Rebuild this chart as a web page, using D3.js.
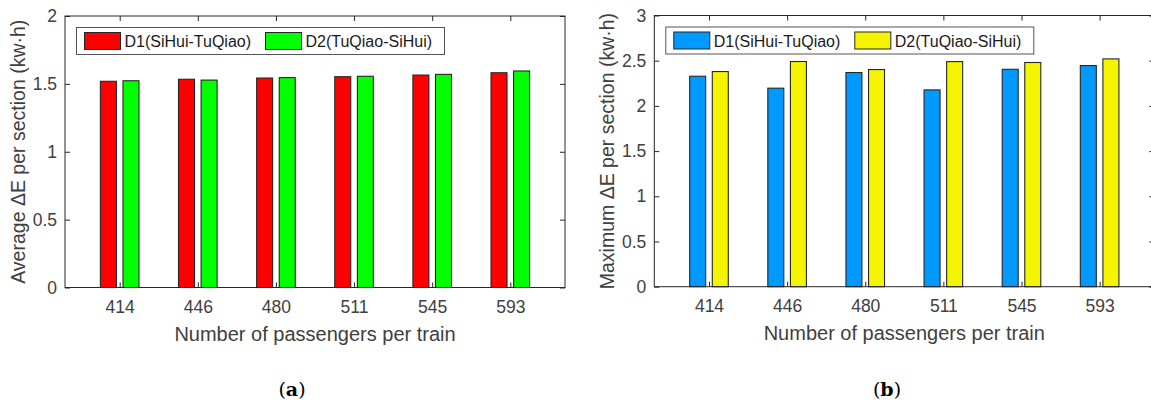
<!DOCTYPE html>
<html>
<head>
<meta charset="utf-8">
<script src="https://cdn.jsdelivr.net/npm/d3@7"></script>
<style>
    body { margin: 0; background: #fff; }
    svg { display: block; }
    text { font-family: "Liberation Sans", Arial, sans-serif; }
</style>
</head>
<body>
<div id="chart"></div>
<script>
'use strict';

// Values.
var categories  = ['414', '446', '480', '511', '545', '593'];
var seriesNames = ['D1(SiHui-TuQiao)', 'D2(TuQiao-SiHui)'];
var avgD1 = [1.519, 1.534, 1.543, 1.553, 1.565, 1.582];
var avgD2 = [1.523, 1.528, 1.546, 1.556, 1.570, 1.595];
var maxD1 = [2.328, 2.196, 2.369, 2.177, 2.405, 2.446];
var maxD2 = [2.380, 2.491, 2.402, 2.490, 2.480, 2.520];
var avgTicks = [0, 0.5, 1, 1.5, 2];
var maxTicks = [0, 0.5, 1, 1.5, 2, 2.5, 3];

var width  = 1151,
    height = 403;

var svg = d3.select('#chart').append('svg')
    .attr('width', width)
    .attr('height', height);

function drawPanel(opts) {
    var w = 500,
        h = opts.h,
        barW = 16,
        barOffset = 11.3;

    var g = svg.append('g')
        .attr('transform', 'translate(' + opts.left + ',' + opts.top + ')');

    var x = d3.scaleLinear().domain([0.3, 6.7]).range([0, w]);
    var y = d3.scaleLinear().domain([0, opts.ticks[opts.ticks.length - 1]]).range([h, 0]);

    var idx = categories.map(function (c, i) { return i + 1; });

    // bars
    opts.series.forEach(function (values, s) {
        var dx = s === 0 ? -barOffset : barOffset;
        g.append('g').selectAll('rect')
            .data(values)
            .enter().append('rect')
            .attr('x', function (d, i) { return x(i + 1) + dx - barW / 2; })
            .attr('y', function (d) { return y(d); })
            .attr('width', barW)
            .attr('height', function (d) { return h - y(d); })
            .style('fill', opts.colors[s])
            .style('stroke', '#262626')
            .style('stroke-width', 1.1);
    });

    // axes (ticks pointing inward, like matlab)
    var axisColor = '#262626',
        textColor = '#404040';

    var xAxis = g.append('g')
        .attr('transform', 'translate(0,' + h + ')')
        .call(d3.axisBottom(x).tickValues(idx)
            .tickFormat(function (d) { return categories[d - 1]; })
            .tickSize(-5).tickPadding(13));

    var xTop = g.append('g')
        .call(d3.axisTop(x).tickValues(idx).tickFormat('').tickSize(-5));

    var yAxis = g.append('g')
        .call(d3.axisLeft(y).tickValues(opts.ticks).tickFormat(d3.format('')).tickSize(-5).tickPadding(8));

    var yRight = g.append('g')
        .attr('transform', 'translate(' + w + ',0)')
        .call(d3.axisRight(y).tickValues(opts.ticks).tickFormat('').tickSize(-5));

    [xAxis, xTop, yAxis, yRight].forEach(function (a) {
        a.select('.domain').remove();
        a.selectAll('line').style('stroke', axisColor);
        a.selectAll('text')
            .style('font-size', '17.5px')
            .style('font-family', '"Liberation Sans", Arial, sans-serif')
            .style('fill', textColor);
    });

    g.append('rect')
        .attr('width', w)
        .attr('height', h)
        .style('fill', 'none')
        .style('stroke', axisColor)
        .style('stroke-width', 1);

    // axis titles
    g.append('text')
        .attr('x', w / 2)
        .attr('y', h + 53.5)
        .attr('text-anchor', 'middle')
        .style('font-size', '20px')
        .style('fill', textColor)
        .text('Number of passengers per train');

    g.append('text')
        .attr('transform', 'translate(-40,' + (h / 2) + ') rotate(-90)')
        .attr('text-anchor', 'middle')
        .style('font-size', '19.5px')
        .style('fill', textColor)
        .text(opts.yLabel);

    // legend
    var lg = g.append('g').attr('transform', 'translate(11.5,11.5)');

    lg.append('rect')
        .attr('width', 368)
        .attr('height', 27)
        .style('fill', '#fff')
        .style('stroke', '#555')
        .style('stroke-width', 1);

    seriesNames.forEach(function (name, s) {
        var item = lg.append('g').attr('transform', 'translate(' + (8 + s * 181) + ',0)');

        item.append('rect')
            .attr('y', 5)
            .attr('width', 36)
            .attr('height', 17)
            .style('fill', opts.colors[s])
            .style('stroke', '#262626')
            .style('stroke-width', 1);

        item.append('text')
            .attr('x', 40)
            .attr('y', 19.5)
            .style('font-size', '16px')
            .style('fill', '#1a1a1a')
            .text(name);
    });

    // panel caption
    var cap = svg.append('text')
        .attr('x', opts.capX)
        .attr('y', 396)
        .attr('text-anchor', 'middle')
        .style('font-family', '"DejaVu Serif", "Liberation Serif", serif')
        .style('font-size', '19px')
        .style('fill', '#000');
    cap.append('tspan').text('(');
    cap.append('tspan').style('font-weight', 'bold').text(opts.caption);
    cap.append('tspan').text(')');
}

drawPanel({
    left: 65,
    top: 16,
    h: 271.5,
    series: [avgD1, avgD2],
    colors: ['#ff0000', '#00ff00'],
    ticks: avgTicks,
    yLabel: 'Average \u0394E per section (kw\u00b7h)',
    caption: 'a',
    capX: 292
});

drawPanel({
    left: 654.3,
    top: 15.5,
    h: 271.2,
    series: [maxD1, maxD2],
    colors: ['#0099ff', '#f5f500'],
    ticks: maxTicks,
    yLabel: 'Maximum \u0394E per section (kw\u00b7h)',
    caption: 'b',
    capX: 887
});
</script>
</body>
</html>
